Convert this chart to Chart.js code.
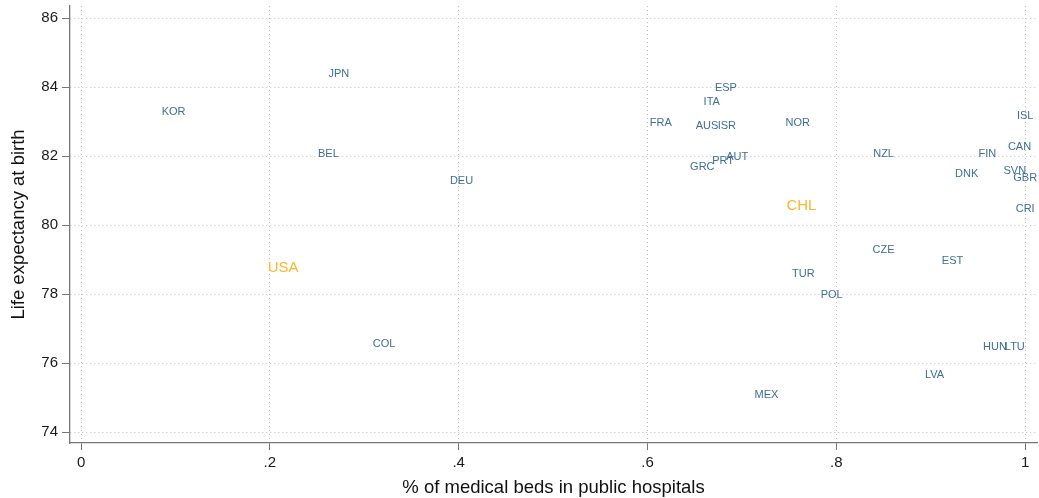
<!DOCTYPE html>
<html lang="en">
<head>
    <meta charset="UTF-8">
    <title>Life expectancy vs public hospital beds</title>
    <script src="https://cdn.jsdelivr.net/npm/chart.js"></script>
    <style>
        html, body {
            margin: 0;
            padding: 0;
            background: #ffffff;
        }
        .chart-box {
            width: 1039px;
            height: 498px;
        }
    </style>
</head>
<body>
    <div class="chart-box">
        <canvas id="scatterCanva"></canvas>
    </div>

    <script>
        // Data
        const countries = ['KOR', 'JPN', 'BEL', 'DEU', 'USA', 'COL', 'FRA', 'ESP', 'ITA', 'AUS', 'ISR',
                           'NOR', 'AUT', 'PRT', 'GRC', 'CHL', 'NZL', 'FIN', 'CAN', 'ISL', 'DNK', 'SVN',
                           'GBR', 'CRI', 'CZE', 'EST', 'TUR', 'POL', 'HUN', 'LTU', 'LVA', 'MEX'];
        const publicBeds = [0.098, 0.273, 0.262, 0.403, 0.214, 0.321, 0.614, 0.683, 0.668, 0.663, 0.684,
                            0.759, 0.695, 0.680, 0.658, 0.763, 0.850, 0.960, 0.994, 1.000, 0.938, 0.989,
                            1.000, 1.000, 0.850, 0.923, 0.765, 0.795, 0.968, 0.989, 0.904, 0.726];
        const lifeExpectancy = [83.3, 84.4, 82.1, 81.3, 78.8, 76.6, 83.0, 84.0, 83.6, 82.9, 82.9,
                                83.0, 82.0, 81.9, 81.7, 80.6, 82.1, 82.1, 82.3, 83.2, 81.5, 81.6,
                                81.4, 80.5, 79.3, 79.0, 78.6, 78.0, 76.5, 76.5, 75.7, 75.1];
        const highlighted = ['USA', 'CHL'];

        const xTicks = [0, 0.2, 0.4, 0.6, 0.8, 1];
        const yTicks = [74, 76, 78, 80, 82, 84, 86];

        const fontFamily = 'Helvetica, "Liberation Sans", Arial, sans-serif';

        // Etykiety krajów zamiast znaczników
        const countryLabels = {
            id: 'countryLabels',
            afterDatasetsDraw(chart) {
                const ctx = chart.ctx;
                const meta = chart.getDatasetMeta(0);
                ctx.save();
                ctx.textAlign = 'center';
                ctx.textBaseline = 'alphabetic';
                meta.data.forEach((pt, i) => {
                    const name = countries[i];
                    const big = highlighted.includes(name);
                    const size = big ? 15 : 11;
                    ctx.font = size + 'px ' + fontFamily;
                    ctx.fillStyle = big ? '#ffb52e' : '#3d6e9e';
                    ctx.fillText(name, pt.x, pt.y + size * 0.36);
                });
                ctx.restore();
            }
        };

        const points = countries.map((c, i) => ({ x: publicBeds[i], y: lifeExpectancy[i] }));

        const ctxScatter = document.getElementById('scatterCanva').getContext('2d');

        const scatterChart = new Chart(ctxScatter, {
            type: 'scatter',
            data: {
                datasets: [
                    {
                        label: 'Countries',
                        data: points,
                        pointRadius: 0,
                        pointHoverRadius: 0
                    }
                ]
            },
            options: {
                responsive: true,
                maintainAspectRatio: false,
                animation: false,
                layout: {
                    autoPadding: false,
                    padding: { top: 6, right: 2, left: 0, bottom: 0 }
                },
                plugins: {
                    legend: { display: false },
                    tooltip: { enabled: false }
                },
                scales: {
                    x: {
                        type: 'linear',
                        min: -0.0117,
                        max: 1.0125,
                        afterBuildTicks: scale => { scale.ticks = xTicks.map(v => ({ value: v })); },
                        afterFit: scale => {
                            scale.height = 55;
                            scale.paddingLeft = 0;
                            scale.paddingRight = 0;
                        },
                        ticks: {
                            color: '#1a1a1a',
                            font: { family: fontFamily, size: 15 },
                            padding: 4,
                            maxRotation: 0,
                            callback: v => v === 0 ? '0' : v === 1 ? '1' : String(v).replace(/^0/, '')
                        },
                        grid: {
                            color: '#c0c0c0',
                            lineWidth: 1,
                            tickColor: '#777777',
                            tickLength: 7,
                            tickBorderDash: []
                        },
                        border: {
                            color: '#777777',
                            width: 1.3,
                            dash: [1, 3]
                        },
                        title: {
                            display: true,
                            text: '% of medical beds in public hospitals',
                            color: '#111111',
                            font: { family: fontFamily, size: 18.5, lineHeight: 1.1 },
                            padding: { top: 0, bottom: 0 }
                        }
                    },
                    y: {
                        type: 'linear',
                        min: 73.69,
                        max: 86.35,
                        afterBuildTicks: scale => { scale.ticks = yTicks.map(v => ({ value: v })); },
                        afterFit: scale => {
                            scale.width = 70;
                            scale.paddingTop = 0;
                            scale.paddingBottom = 0;
                        },
                        ticks: {
                            color: '#1a1a1a',
                            font: { family: fontFamily, size: 15 },
                            padding: 4
                        },
                        grid: {
                            color: '#c0c0c0',
                            lineWidth: 1,
                            tickColor: '#777777',
                            tickLength: 8,
                            tickBorderDash: []
                        },
                        border: {
                            color: '#777777',
                            width: 1.3,
                            dash: [1, 3]
                        },
                        title: {
                            display: true,
                            text: 'Life expectancy at birth',
                            color: '#111111',
                            font: { family: fontFamily, size: 18.5 },
                            padding: { top: 8, bottom: 0 }
                        }
                    }
                }
            },
            plugins: [countryLabels]
        });
    </script>
</body>
</html>
